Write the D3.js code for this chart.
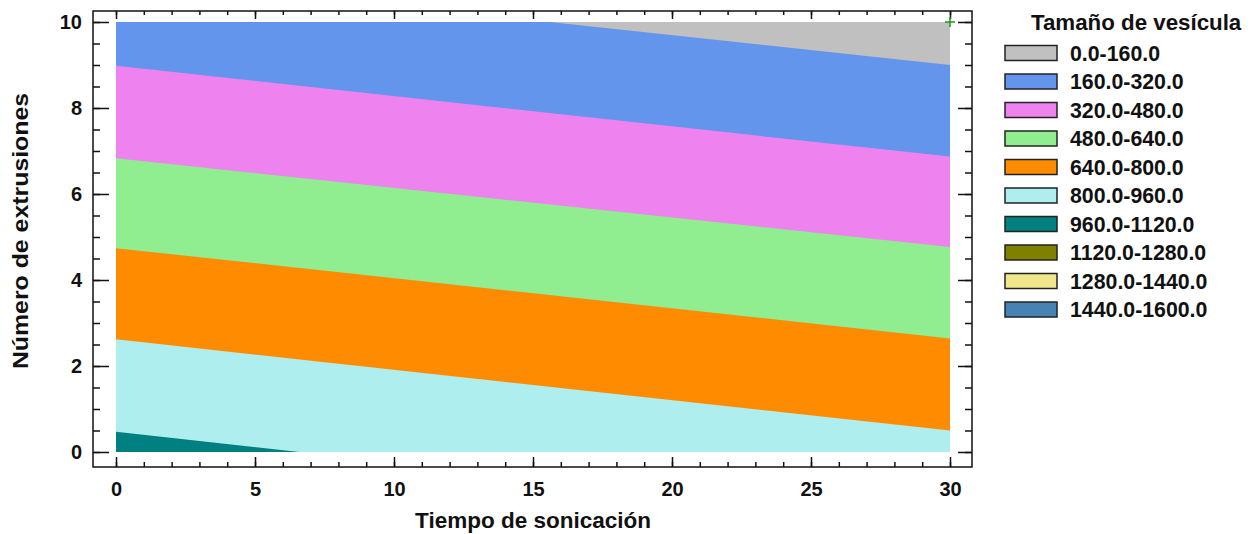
<!DOCTYPE html>
<html>
<head>
<meta charset="utf-8">
<script src="https://cdn.jsdelivr.net/npm/d3@7"></script>
<style>
  body { margin: 0; background: #fff; }
  text { font-family: "Liberation Sans", Arial, sans-serif; font-weight: bold; fill: #111; }
</style>
</head>
<body>
<div id="chart"></div>
<script>
// contour plot: vesicle size vs sonication time and extrusions
var svgWidth = 1251;
var svgHeight = 534;

// plot frame and data area (pixels)
var frame = {left: 93, top: 11, right: 972, bottom: 467};

// tick labels
var xTicks = [0, 5, 10, 15, 20, 25, 30];
var yTicks = [0, 2, 4, 6, 8, 10];

// legend bands
var legendLabels = ["0.0-160.0", "160.0-320.0", "320.0-480.0", "480.0-640.0", "640.0-800.0",
    "800.0-960.0", "960.0-1120.0", "1120.0-1280.0", "1280.0-1440.0", "1440.0-1600.0"];
var bandColors = ["#c0c0c0", "#6495ed", "#ee82ee", "#90ee90", "#ff8c00",
    "#afeeee", "#008080", "#808000", "#f0e68c", "#4682b4"];

// contour lines: where each level enters and leaves the plot
var contourLevels = [160, 320, 480, 640, 800, 960];
var contourStart = [[15.6, 10], [0, 8.98], [0, 6.83], [0, 4.74], [0, 2.62], [0, 0.47]];
var contourEnd = [[30, 9.0], [30, 6.87], [30, 4.77], [30, 2.64], [30, 0.5], [6.6, 0]];

// marked point
var markPoint = [30, 10];

var svg = d3.select("#chart").append("svg")
    .attr("width", svgWidth)
    .attr("height", svgHeight);

var xScale = d3.scaleLinear().domain([0, 30]).range([116, 950]);
var yScale = d3.scaleLinear().domain([0, 10]).range([452, 22]);

svg.append("clipPath").attr("id", "plotClip")
    .append("rect")
    .attr("x", xScale(0)).attr("y", yScale(10))
    .attr("width", xScale(30) - xScale(0))
    .attr("height", yScale(0) - yScale(10));

var plot = svg.append("g").attr("clip-path", "url(#plotClip)");

// lowest band fills the whole area, then each band below a contour line on top
plot.append("rect")
    .attr("x", xScale(0)).attr("y", yScale(10))
    .attr("width", xScale(30) - xScale(0))
    .attr("height", yScale(0) - yScale(10))
    .attr("fill", bandColors[0]);

var area = d3.line()
    .x(function(d) { return xScale(d[0]); })
    .y(function(d) { return yScale(d[1]); });

contourLevels.forEach(function(level, i) {
    var p = contourStart[i], q = contourEnd[i];
    var lineAt = function(xv) { return p[1] + (q[1] - p[1]) * (xv - p[0]) / (q[0] - p[0]); };
    var pts = [[0, lineAt(0)], [30, lineAt(30)], [30, -1], [0, -1]];
    plot.append("path")
        .attr("d", area(pts) + "Z")
        .attr("fill", bandColors[i + 1]);
});

// frame
svg.append("rect")
    .attr("x", frame.left).attr("y", frame.top)
    .attr("width", frame.right - frame.left)
    .attr("height", frame.bottom - frame.top)
    .attr("fill", "none")
    .attr("stroke", "#111")
    .attr("stroke-width", 1.5);

function styleAxis(g) {
    g.select(".domain").remove();
    g.selectAll(".tick line").attr("stroke", "#111").attr("stroke-width", 1.5);
    g.selectAll("text").style("font-size", "20px").attr("fill", "#111");
}

// bottom axis with labels
svg.append("g")
    .attr("transform", "translate(0," + frame.bottom + ")")
    .call(d3.axisBottom(xScale).tickValues(xTicks).tickSize(-10).tickPadding(15))
    .call(styleAxis);
svg.append("g")
    .attr("transform", "translate(0," + frame.bottom + ")")
    .call(d3.axisBottom(xScale).ticks(30).tickSize(-5).tickFormat(""))
    .call(styleAxis);
// top axis
svg.append("g")
    .attr("transform", "translate(0," + frame.top + ")")
    .call(d3.axisTop(xScale).tickValues(xTicks).tickSize(-8).tickFormat(""))
    .call(styleAxis);
svg.append("g")
    .attr("transform", "translate(0," + frame.top + ")")
    .call(d3.axisTop(xScale).ticks(30).tickSize(-4).tickFormat(""))
    .call(styleAxis);
// left axis with labels
svg.append("g")
    .attr("transform", "translate(" + frame.left + ",0)")
    .call(d3.axisLeft(yScale).tickValues(yTicks).tickSize(-16).tickPadding(11))
    .call(styleAxis);
svg.append("g")
    .attr("transform", "translate(" + frame.left + ",0)")
    .call(d3.axisLeft(yScale).ticks(20).tickSize(-7).tickFormat(""))
    .call(styleAxis);
// right axis
svg.append("g")
    .attr("transform", "translate(" + frame.right + ",0)")
    .call(d3.axisRight(yScale).tickValues(yTicks).tickSize(-14).tickFormat(""))
    .call(styleAxis);
svg.append("g")
    .attr("transform", "translate(" + frame.right + ",0)")
    .call(d3.axisRight(yScale).ticks(20).tickSize(-7).tickFormat(""))
    .call(styleAxis);

// green plus marker
var mx = xScale(markPoint[0]), my = yScale(markPoint[1]);
svg.append("path")
    .attr("d", "M" + (mx - 5) + "," + my + "H" + (mx + 5) + "M" + mx + "," + (my - 5) + "V" + (my + 5))
    .attr("stroke", "#1a9a1a")
    .attr("stroke-width", 1.5);

// axis titles
svg.append("text")
    .attr("x", 533).attr("y", 528)
    .attr("text-anchor", "middle")
    .style("font-size", "22.5px")
    .text("Tiempo de sonicación");
svg.append("text")
    .attr("transform", "translate(28,231) rotate(-90) scale(1.13,1)")
    .attr("text-anchor", "middle")
    .style("font-size", "22px")
    .text("Número de extrusiones");

// legend
var legend = svg.append("g");
legend.append("text")
    .attr("x", 1031).attr("y", 30)
    .style("font-size", "22.3px")
    .text("Tamaño de vesícula");
var items = legend.selectAll("g.item")
    .data(legendLabels)
    .enter()
    .append("g")
    .attr("class", "item")
    .attr("transform", function(d, i) { return "translate(1005," + (53 + 28.5 * i) + ")"; });
items.append("rect")
    .attr("x", 0).attr("y", -7.5)
    .attr("width", 52).attr("height", 15)
    .attr("fill", function(d, i) { return bandColors[i]; })
    .attr("stroke", "#222")
    .attr("stroke-width", 1.5);
items.append("text")
    .attr("x", 65).attr("y", 7.5)
    .style("font-size", "21.3px")
    .text(function(d) { return d; });
</script>
</body>
</html>
